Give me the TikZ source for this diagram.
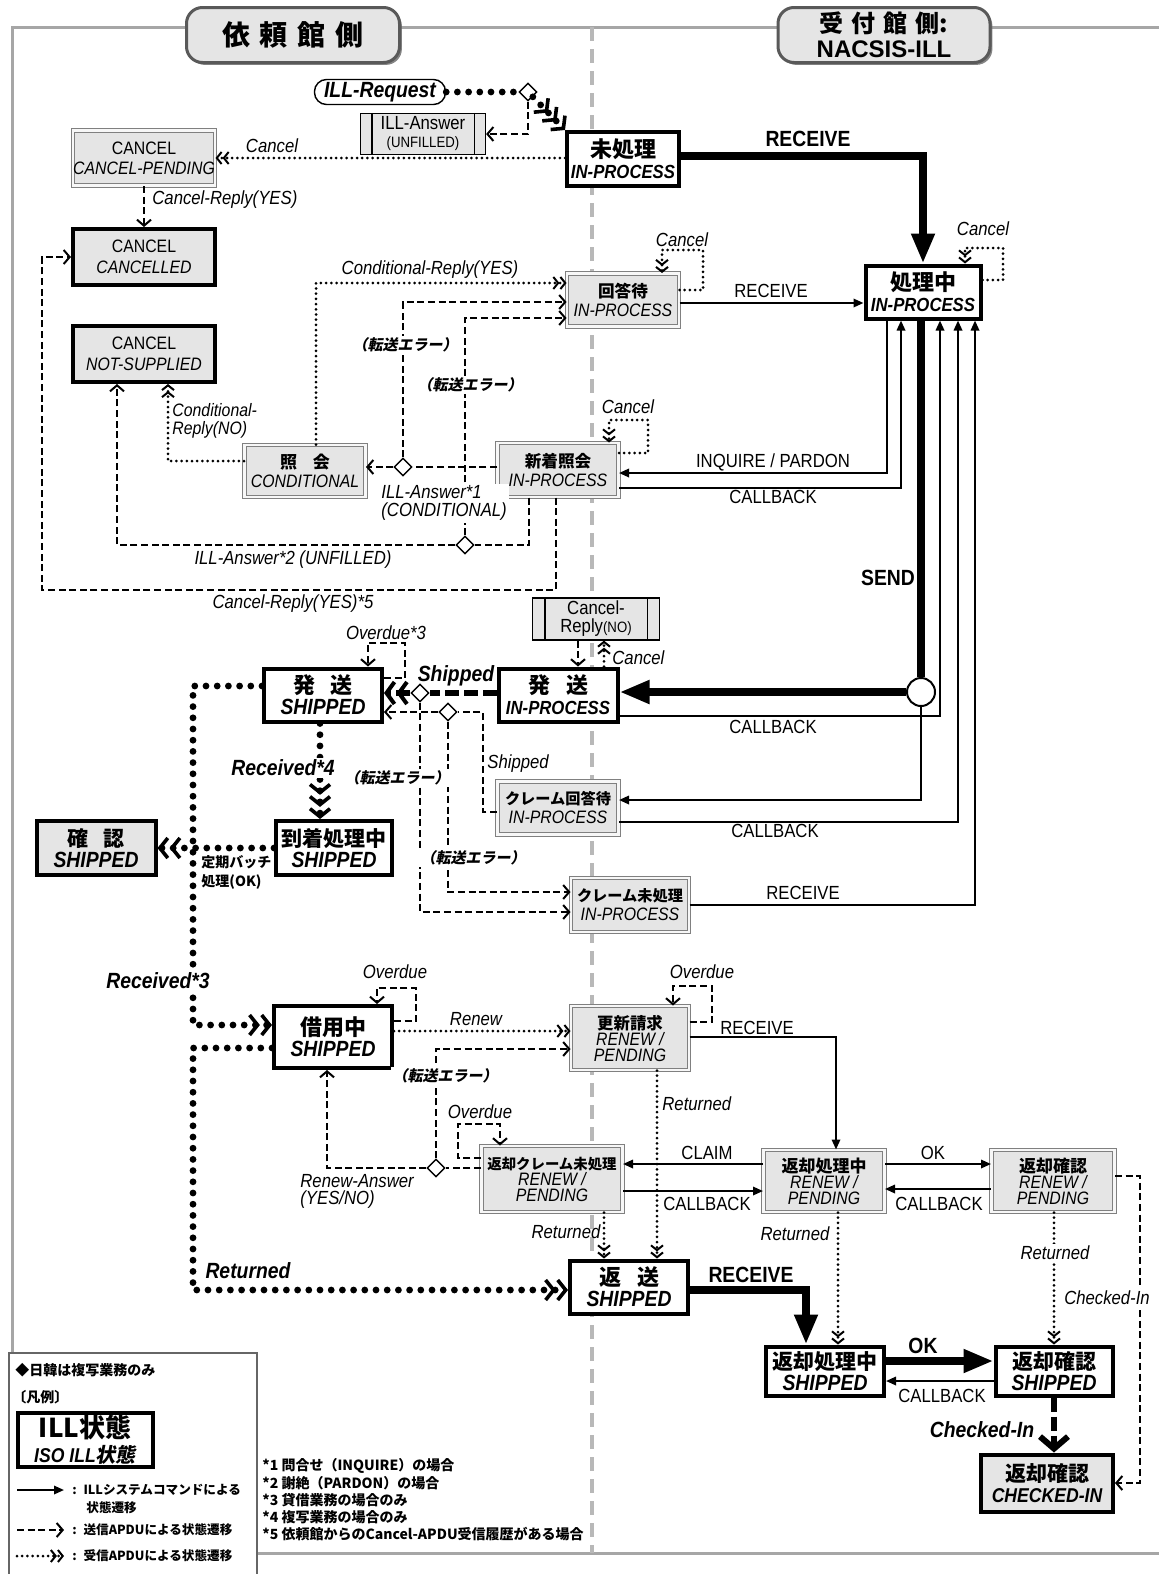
\documentclass[tikz,border=0pt]{standalone}
\usepackage{fontspec}
\setmainfont{Liberation Sans}[FakeStretch=0.88]
\newfontfamily\wide{Liberation Sans}
\newfontfamily\jp{Noto Sans CJK JP}
\newfontfamily\jpi{Noto Sans CJK JP}[FakeSlant=0.2]
\usetikzlibrary{arrows.meta,shapes.geometric,shadows}
\newcommand\Jb[2]{{\fontsize{#1}{#1}\selectfont\jp\bfseries #2}}
\newcommand\Lbi[2]{{\fontsize{#1}{#1}\selectfont\bfseries\itshape #2}}
\newcommand\Li[2]{{\fontsize{#1}{#1}\selectfont\itshape #2}}
\newcommand\Lr[2]{{\fontsize{#1}{#1}\selectfont #2}}
\tikzset{
 sz/.style 2 args={minimum width=#1*0.5pt, minimum height=#2*0.5pt},
 thk/.style={draw, line width=2pt, fill=white, inner sep=0pt, align=center, font=\fontsize{10}{10.5}\selectfont},
 thkg/.style={thk, fill=black!10},
 gry/.style={draw=black!50, line width=0.5pt, double=black!3, double distance=1.4pt, fill=black!10, inner sep=0pt, align=center, font=\fontsize{9}{9.5}\selectfont},
 apdu/.style={draw, line width=0.6pt, fill=black!10, inner sep=0pt, align=center, font=\fontsize{9}{9}\selectfont},
 dia/.style={diamond, draw, line width=0.7pt, fill=white, minimum width=9pt, minimum height=9pt, inner sep=0pt},
 tab/.style={draw=black!65, line width=1.5pt, fill=black!10, rounded corners=8pt, inner sep=0pt, align=center,
   drop shadow={shadow xshift=1.2pt, shadow yshift=-1.2pt, fill=black!60, opacity=0.8}},
 ln/.style={line width=1pt, -{Triangle[length=5pt,width=4.2pt]}},
 lnT/.style={line width=4pt, -{Triangle[length=15pt,width=11pt]}},
 dsh/.style={line width=0.9pt, dash pattern=on 3.5pt off 1.8pt, -{Straight Barb[length=3pt,width=7pt,line width=1pt]}},
 dot/.style={line width=1.5pt, line cap=round, dash pattern=on 0pt off 2.6pt,
   -{Straight Barb[length=2.4pt,width=6pt,line width=1pt] Straight Barb[length=2.4pt,width=6pt,line width=1pt]}},
 hdot/.style={line width=3.4pt, line cap=round, dash pattern=on 0pt off 5.6pt,
   -{Straight Barb[length=4pt,width=10pt,line width=1.8pt] Straight Barb[length=4pt,width=10pt,line width=1.8pt]}},
 hdot3/.style={hdot, -{Straight Barb[length=4pt,width=10pt,line width=1.8pt] Straight Barb[length=4pt,width=10pt,line width=1.8pt] Straight Barb[length=4pt,width=10pt,line width=1.8pt]}},
 hdsh/.style={line width=3pt, dash pattern=on 7pt off 2.5pt,
   -{Straight Barb[length=4pt,width=11pt,line width=2pt] Straight Barb[length=4pt,width=11pt,line width=2pt]}},
 hdshv/.style={line width=3pt, dash pattern=on 7pt off 2.5pt, -{Straight Barb[length=6pt,width=14pt,line width=3pt]}},
 lab/.style={font=\fontsize{9.5}{9.5}\selectfont\itshape, inner sep=1pt},
 labw/.style={lab, fill=white},
 cmd/.style={font=\fontsize{9.5}{9.5}\selectfont, inner sep=1pt},
 cmdb/.style={font=\fontsize{11}{11}\selectfont\bfseries, inner sep=1pt},
 bi/.style={font=\fontsize{11}{11}\selectfont\bfseries\itshape, inner sep=1pt},
 err/.style={font=\fontsize{7.5}{7.5}\selectfont\jpi\bfseries, inner sep=1pt, fill=white},
 jl/.style={font=\fontsize{7}{9.5}\selectfont\jp\bfseries, inner sep=0pt, align=left},
 jls/.style={font=\fontsize{6.3}{8}\selectfont\jp\bfseries, inner sep=0pt, align=left},
}
\begin{document}
\begin{tikzpicture}[x=0.5pt,y=-0.5pt]
\useasboundingbox (0,0) rectangle (1158,1574);
% frame and divider
\draw[black!35, line width=1.5pt] (1160,27) -- (12,27) -- (12,1553) -- (1160,1553);
\draw[black!28, line width=1.6pt, dash pattern=on 7pt off 4pt] (592,27) -- (592,1553);
% tabs
\node[tab, sz={213}{55}] (tabL) at (293,35) {\Jb{14}{依\hspace{5pt}頼\hspace{5pt}館\hspace{5pt}側}};
\node[tab, sz={212}{55}, font=\fontsize{12}{12.5}\selectfont] (tabR) at (884,35)
  {\Jb{12}{受\hspace{4pt}付\hspace{4pt}館\hspace{4pt}側:}\\{\wide\bfseries NACSIS-ILL}};

% states
\node[draw, line width=0.7pt, fill=white, rounded corners=6pt, sz={131}{25}, inner sep=0pt] (req) at (380,92) {\Lbi{11}{ILL-Request}};
\node[dia] (d0) at (528,92) {};
\node[apdu, sz={125}{41}] (ans) at (423,134) {\Lr{9.5}{ILL-Answer}\\\Lr{7.5}{(UNFILLED)}};
\node[thk, sz={112}{54}] (mi) at (623,159) {\Jb{11}{未処理}\\\Lbi{9.5}{IN-PROCESS}};
\node[gry, sz={142}{55}, font=\fontsize{9}{10}\selectfont] (cp) at (144,158) {\Lr{9}{CANCEL}\\\Li{9}{CANCEL-PENDING}};
\node[thkg, sz={142}{56}] (cc) at (144,257) {\Lr{9}{CANCEL}\\\Li{9}{CANCELLED}};
\node[thkg, sz={142}{56}] (ns) at (144,354) {\Lr{9}{CANCEL}\\\Li{9}{NOT-SUPPLIED}};
\node[gry, sz={112}{53}] (kt) at (623,300) {\Jb{8.3}{回答待}\\\Li{9}{IN-PROCESS}};
\node[thk, sz={115}{53}] (sc) at (923,292) {\Jb{11}{処理中}\\\Lbi{9.5}{IN-PROCESS}};
\node[gry, sz={121}{52}] (sk) at (305,471) {\Jb{8.5}{照\hspace{8pt}会}\\\Li{9}{CONDITIONAL}};
\node[gry, sz={121}{54}] (sn) at (558,470) {\Jb{8.3}{新着照会}\\\Li{9}{IN-PROCESS}};
\node[dia] (d1) at (403,467) {};
\node[dia] (d2) at (465,545) {};
\node[apdu, sz={127}{42}] (crn) at (596,619) {\Lr{9.5}{Cancel-}\\\Lr{9.5}{Reply}\Lr{7.5}{(NO)}};
\node[thk, sz={118}{53}] (hs) at (323,695) {\Jb{11}{発\hspace{8pt}送}\\\Lbi{11}{SHIPPED}};
\node[thk, sz={119}{53}] (hi) at (558,695) {\Jb{11}{発\hspace{8pt}送}\\\Lbi{9.5}{IN-PROCESS}};
\node[dia] (d3) at (420,693) {};
\node[dia] (d4) at (448,712) {};
\node[gry, sz={121}{53}] (ck) at (558,808) {\Jb{7.6}{クレーム回答待}\\\Li{9}{IN-PROCESS}};
\node[thk, sz={116}{54}] (tc) at (334,848) {\Jb{10.5}{到着処理中}\\\Lbi{11}{SHIPPED}};
\node[thkg, sz={119}{54}] (kn) at (96,848) {\Jb{10.5}{確\hspace{8pt}認}\\\Lbi{11}{SHIPPED}};
\node[gry, sz={118}{54}] (cm) at (630,905) {\Jb{7.6}{クレーム未処理}\\\Li{9}{IN-PROCESS}};
\node[thk, sz={118}{62}] (sy) at (333,1037) {\Jb{11}{借用中}\\\Lbi{11}{SHIPPED}};
\node[gry, sz={118}{64}, font=\fontsize{8}{8}\selectfont] (ko) at (630,1038) {\Jb{8.2}{更新請求}\\\Li{9}{RENEW /}\\\Li{9}{PENDING}};
\node[gry, sz={141}{66}, font=\fontsize{8}{8}\selectfont] (hc) at (552,1179) {\Jb{7.2}{返却クレーム未処理}\\\Li{9}{RENEW /}\\\Li{9}{PENDING}};
\node[dia] (d5) at (436,1168) {};
\node[gry, sz={121}{62}, font=\fontsize{8}{8}\selectfont] (hrp) at (824,1181) {\Jb{8.5}{返却処理中}\\\Li{9}{RENEW /}\\\Li{9}{PENDING}};
\node[gry, sz={123}{62}, font=\fontsize{8}{8}\selectfont] (hkrp) at (1053,1181) {\Jb{8.5}{返却確認}\\\Li{9}{RENEW /}\\\Li{9}{PENDING}};
\node[thk, sz={118}{53}] (hen) at (629,1287) {\Jb{11}{返\hspace{8pt}送}\\\Lbi{11}{SHIPPED}};
\node[thk, sz={118}{49}] (hrs) at (825,1371) {\Jb{10.5}{返却処理中}\\\Lbi{11}{SHIPPED}};
\node[thk, sz={117}{49}] (hks) at (1054,1371) {\Jb{10.5}{返却確認}\\\Lbi{11}{SHIPPED}};
\node[thkg, sz={132}{57}] (hci) at (1047,1483) {\Jb{10.5}{返却確認}\\\Lbi{10}{CHECKED-IN}};

% apdu box bars
\draw[line width=0.6pt] ([xshift=6pt]ans.north west) -- ([xshift=6pt]ans.south west);
\draw[line width=0.6pt] ([xshift=-6pt]ans.north east) -- ([xshift=-6pt]ans.south east);
\draw[line width=0.6pt] ([xshift=6.5pt]crn.north west) -- ([xshift=6.5pt]crn.south west);
\draw[line width=0.6pt] ([xshift=-6.5pt]crn.north east) -- ([xshift=-6.5pt]crn.south east);

% ---- connectors, upper part
\draw[hdot,-] (req.east) -- (d0.west);
\draw[hdot3] (d0.south east) -- (mi.north west);
\draw[dsh] (d0.south) |- (ans.east);
\draw[dot] (mi.west |- 0,158) -- (cp.east);
\draw[dsh] (cp.south) -- (cc.north);
\draw[lnT] (mi.east |- 0,156) -| (sc.north);
\draw[dot] (sc.east |- 0,280) -| (1003,248) -| (965,0 |- sc.north);
\draw[dot] (kt.east |- 0,290) -| (703,250) -| (662,0 |- kt.north);
\draw[ln] (kt.east |- 0,303) -- (sc.west |- 0,303);
\draw[dot] (316,0 |- sk.north) |- (kt.west |- 0,283);
\draw[dsh] (d1.north) |- (kt.west |- 0,302);
\draw[dsh] (d2.north) |- (kt.west |- 0,318);
\draw[dsh,-] (sn.west |- 0,467) -- (d1.east);
\draw[dsh] (d1.west) -- (sk.east |- 0,467);
\draw[dsh,-] (529,0 |- sn.south) |- (d2.east);
\draw[dsh] (d2.west) -| (117,0 |- ns.south);
\draw[dot] (sk.west |- 0,461) -| (168,0 |- ns.south);
\draw[dsh] (556,0 |- sn.south) |- (42,590) |- (cc.west);
\draw[dot] (sn.east |- 0,453) -| (648,420) -| (609,0 |- sn.north);
\draw[ln] (887,0 |- sc.south) |- (sn.east |- 0,473);
\draw[ln] (sn.east |- 0,488) -| (901,0 |- sc.south);
% send
\node[circle, draw, line width=1pt, fill=white, minimum size=14pt, inner sep=0pt] (circ) at (921,692) {};
\draw[line width=4pt] (circ.north |- sc.south) -- (circ.north);
\draw[lnT] (circ.west) -- (hi.east |- circ.west);
\draw[ln] (circ.south) |- (ck.east |- 0,800);
\draw[ln] (hi.east |- 0,716) -| (940,0 |- sc.south);
\draw[ln] (ck.east |- 0,822) -| (958,0 |- sc.south);
\draw[ln] (cm.east) -| (975,0 |- sc.south);
\draw[dsh] (578,0 |- crn.south) -- (578,0 |- hi.north);
\draw[dot] (604,0 |- hi.north) -- (604,0 |- crn.south);
% shipped
\draw[hdsh,-] (hi.west |- 0,693) -- (d3.east);
\draw[hdsh] (d3.west) -- (hs.east |- 0,693);
\draw[dsh,-] (ck.west |- 0,812) -| (483,712) -- (d4.east);
\draw[dsh] (d4.west) -- (hs.east |- 0,712);
\draw[dsh] (d3.south) |- (cm.west |- 0,912);
\draw[dsh] (d4.south) |- (cm.west |- 0,892);
\draw[dsh] (hs.east |- 0,678) -| (405,643) -| (368,0 |- hs.north);
\draw[hdot3] (320,0 |- hs.south) -- (320,0 |- tc.north);
\draw[hdot] (hs.west |- 0,686) -| (193,1025) -- (sy.west |- 0,1025);
\draw[hdot] (tc.west) -- (kn.east);
\draw[hdot] (sy.west |- 0,1048) -| (193,1290) -- (hen.west |- 0,1290);
% lower part
\draw[dsh] (sy.east |- 0,1021) -| (416,988) -| (377,0 |- sy.north);
\draw[dot] (sy.east |- 0,1031) -- (ko.west |- 0,1031);
\draw[dsh] (d5.north) |- (ko.west |- 0,1049);
\draw[dsh,-] (hc.west |- 0,1168) -- (d5.east);
\draw[dsh] (d5.west) -| (327,0 |- sy.south);
\draw[dsh] (hc.west |- 0,1158) -| (458,1124) -| (500,0 |- hc.north);
\draw[dsh] (ko.east |- 0,1022) -| (712,986) -| (673,0 |- ko.north);
\draw[ln] (ko.east |- 0,1037) -| (836,0 |- hrp.north);
\draw[dot] (657,0 |- ko.south) -- (657,0 |- hen.north);
\draw[ln] (hrp.west |- 0,1164) -- (hc.east |- 0,1164);
\draw[ln] (hc.east |- 0,1191) -- (hrp.west |- 0,1191);
\draw[dot] (604,0 |- hc.south) -- (604,0 |- hen.north);
\draw[ln] (hrp.east |- 0,1164) -- (hkrp.west |- 0,1164);
\draw[ln] (hkrp.west |- 0,1189) -- (hrp.east |- 0,1189);
\draw[dot] (838,0 |- hrp.south) -- (838,0 |- hrs.north);
\draw[dot] (1054,0 |- hkrp.south) -- (1054,0 |- hks.north);
\draw[dsh] (hkrp.east |- 0,1176) -| (1140,0 |- hci.east) -- (hci.east);
\draw[lnT] (hen.east |- 0,1290) -| (806,0 |- hrs.north);
\draw[lnT] (hrs.east |- 0,1361) -- (hks.west |- 0,1361);
\draw[ln] (hks.west |- 0,1381) -- (hrs.east |- 0,1381);
\draw[hdshv] (1054,0 |- hks.south) -- (1054,0 |- hci.north);

% ---- labels
\node[lab] at (272,146) {Cancel};
\node[lab, anchor=west] at (150,200) {Cancel-Reply(YES)};
\node[cmdb] at (808,139) {RECEIVE};
\node[lab] at (983,229) {Cancel};
\node[lab] at (682,240) {Cancel};
\node[cmd] at (771,291) {RECEIVE};
\node[lab] at (430,270) {Conditional-Reply(YES)};
\node[err] at (405,345) {（転送エラー）};
\node[err] at (470,385) {（転送エラー）};
\node[lab] at (628,407) {Cancel};
\node[lab, anchor=west, align=left, fill=white, font=\fontsize{9.5}{9}\selectfont\itshape] at (379,503) {ILL-Answer*1\\(CONDITIONAL)};
\node[lab] at (293,560) {ILL-Answer*2 (UNFILLED)};
\node[lab] at (293,604) {Cancel-Reply(YES)*5};
\node[lab, anchor=west, align=left, font=\fontsize{9}{9}\selectfont\itshape] at (170,421) {Conditional-\\Reply(NO)};
\node[cmd] at (773,462) {INQUIRE / PARDON};
\node[cmd] at (773,497) {CALLBACK};
\node[cmdb] at (888,578) {SEND};
\node[lab, anchor=west] at (610,658) {Cancel};
\node[cmd] at (773,727) {CALLBACK};
\node[cmd] at (775,831) {CALLBACK};
\node[cmd] at (803,893) {RECEIVE};
\node[bi] at (456,676) {Shipped};
\node[lab, anchor=west] at (485,764) {Shipped};
\node[lab] at (386,633) {Overdue*3};
\node[err] at (397,778) {（転送エラー）};
\node[err] at (473,858) {（転送エラー）};
\node[bi, fill=white] at (283,768) {Received*4};
\node[bi, fill=white] at (158,981) {Received*3};
\node[jl, anchor=west] at (201,872) {定期バッチ\\処理(OK)};
\node[lab] at (395,972) {Overdue};
\node[lab] at (702,972) {Overdue};
\node[lab] at (480,1112) {Overdue};
\node[lab] at (476,1019) {Renew};
\node[err] at (445,1076) {（転送エラー）};
\node[lab, anchor=west, align=left, font=\fontsize{9.5}{8.5}\selectfont\itshape] at (298,1191) {Renew-Answer\\(YES/NO)};
\node[cmd] at (757,1028) {RECEIVE};
\node[lab, anchor=west] at (660,1104) {Returned};
\node[cmd] at (707,1153) {CLAIM};
\node[cmd] at (707,1204) {CALLBACK};
\node[lab] at (566,1232) {Returned};
\node[cmd] at (933,1153) {OK};
\node[cmd] at (939,1204) {CALLBACK};
\node[lab] at (795,1234) {Returned};
\node[labw] at (1055,1253) {Returned};
\node[labw] at (1107,1298) {Checked-In};
\node[bi] at (248,1271) {Returned};
\node[cmdb] at (751,1275) {RECEIVE};
\node[cmdb] at (923,1346) {OK};
\node[cmd] at (942,1396) {CALLBACK};
\node[bi] at (982,1430) {Checked-In};

% ---- legend
\node[draw=black!60, fill=white, line width=0.8pt, anchor=north west, minimum width=124pt, minimum height=120pt, inner sep=0pt] (leg) at (8,1352) {};
\node[jl, anchor=west] (lg1) at (15,1370) {◆日韓は複写業務のみ};
\node[jl, anchor=west] (lg2) at (12,1397) {〔凡例〕};
\node[thk, sz={135}{54}, font=\fontsize{12}{12.5}\selectfont] (lgb) at (85,1440)
  {\Jb{13}{ILL状態}\\{\fontsize{10}{10}\selectfont\bfseries\itshape ISO ILL{\jpi\bfseries 状態}}};
\coordinate (la1) at (17,1490); \coordinate (lb1) at (64,1490);
\coordinate (la2) at (17,1530); \coordinate (lb2) at (64,1530);
\coordinate (la3) at (17,1556); \coordinate (lb3) at (64,1556);
\draw[ln] (la1) -- (lb1);
\draw[dsh] (la2) -- (lb2);
\draw[dot] (la3) -- (lb3);
\node[jls, anchor=west] at (72,1490) {: \ ILLシステムコマンドによる};
\node[jls, anchor=west] at (86,1508) {状態遷移};
\node[jls, anchor=west] at (72,1530) {: \ 送信APDUによる状態遷移};
\node[jls, anchor=west] at (72,1556) {: \ 受信APDUによる状態遷移};
\node[anchor=west, inner sep=0pt, align=left, font=\fontsize{7}{8.6}\selectfont\jp\bfseries] (fn) at (262,1500)
  {*1 問合せ（INQUIRE）の場合\\*2 謝絶（PARDON）の場合\\*3 貸借業務の場合のみ\\*4 複写業務の場合のみ\\*5 依頼館からのCancel-APDU受信履歴がある場合};
\end{tikzpicture}
\end{document}
